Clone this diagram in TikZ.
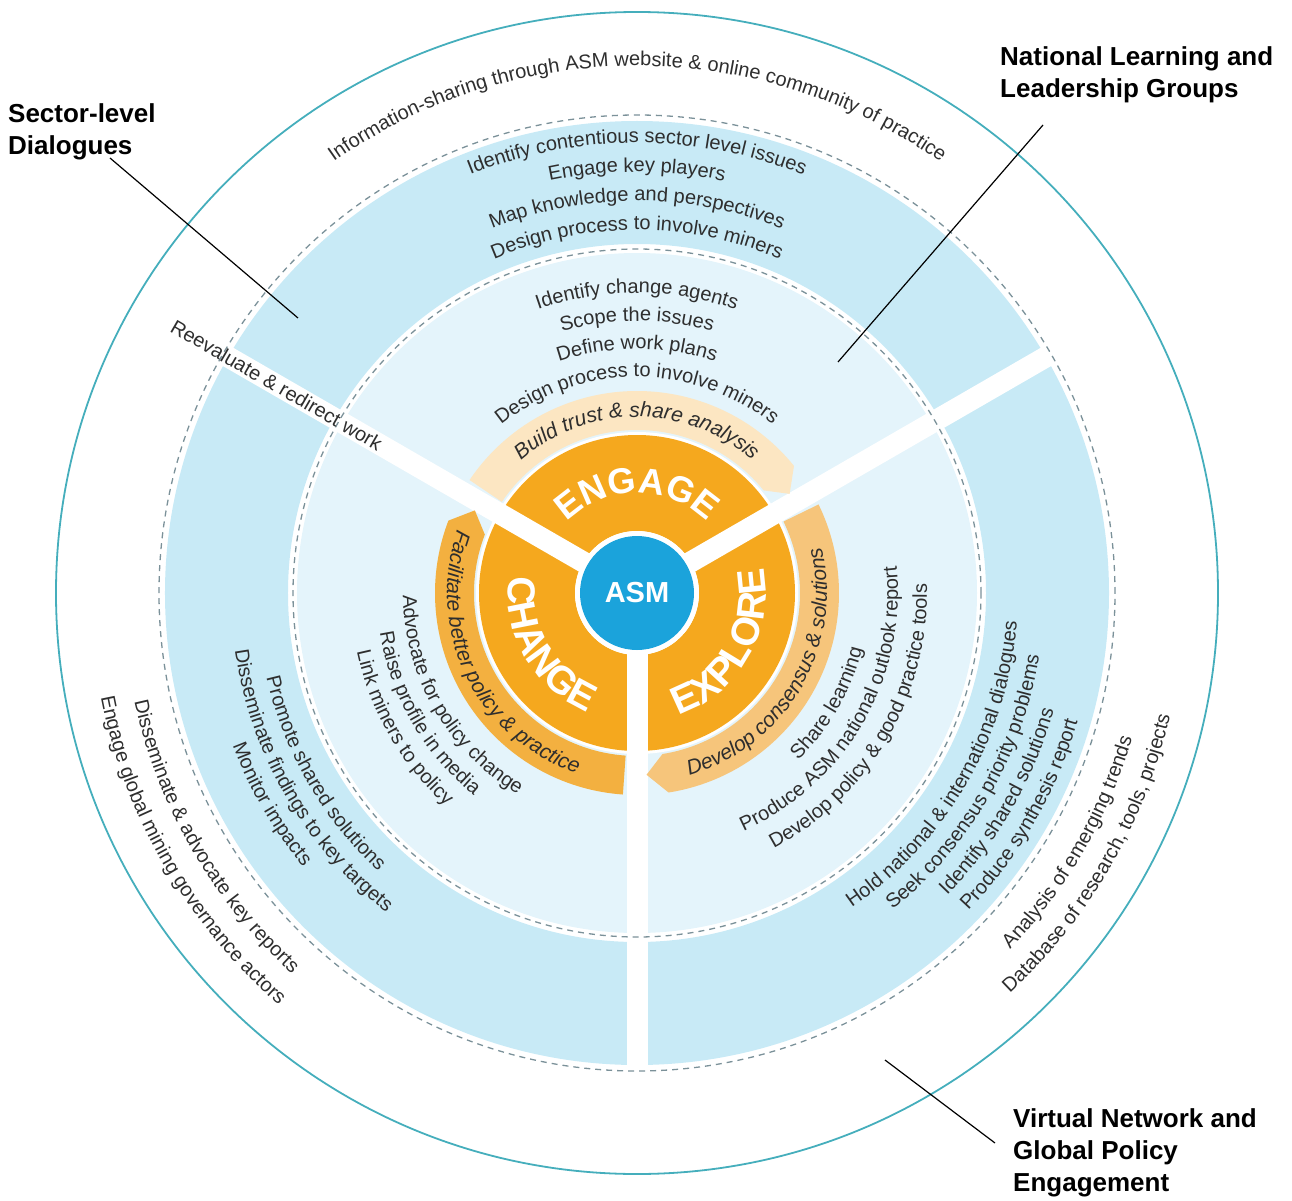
\documentclass[tikz,border=0pt]{standalone}
\usepackage{fontspec}
\setmainfont{Liberation Sans}
\usetikzlibrary{decorations.text}
\definecolor{ringteal}{HTML}{45AEBC}
\definecolor{bandblue}{HTML}{C8EAF6}
\definecolor{innerblue}{HTML}{E4F4FB}
\definecolor{orgdark}{HTML}{F5A81E}
\definecolor{orgchange}{HTML}{F3B040}
\definecolor{orgexplore}{HTML}{F6C57B}
\definecolor{orgengage}{HTML}{FCE6C2}
\definecolor{asmblue}{HTML}{1BA3DB}
\definecolor{dashgray}{HTML}{7B9199}
\definecolor{txtgray}{HTML}{2E2E2E}
\newcommand\listfnt{\fontsize{20}{23}\selectfont}
\newcommand\italfnt{\itshape\fontsize{21}{24}\selectfont}
\newcommand\bigfnt{\bfseries\fontsize{36}{40}\selectfont}
\newcommand\bigsidefnt{\bfseries\fontsize{39}{42}\selectfont}
% text on an arc, tops outward (clockwise path)
\newcommand\arcout[4][txtgray]{\path[decorate,decoration={text along path,text align=center,text color=#1,text={#4}}] ({#3+80}:#2) arc[start angle={#3+80},end angle={#3-80},radius=#2];}
% text on an arc, tops inward (counter-clockwise path)
\newcommand\arcin[4][txtgray]{\path[decorate,decoration={text along path,text align=center,text color=#1,text={#4}}] ({#3-80}:#2) arc[start angle={#3-80},end angle={#3+80},radius=#2];}
% pale arrow segment: colour, start angle, body end angle, tip angle
\newcommand\paleseg[4]{\fill[#1] (#2:163) arc[start angle=#2,end angle=#3,radius=163] -- (#4:182) -- (#3:202) arc[start angle=#3,end angle=#2,radius=202] -- cycle;}
\tikzset{
  lbl/.style={font=\bfseries\fontsize{26}{32}\selectfont, align=left, inner sep=0pt, text=black},
  leader/.style={black, line width=1.2pt},
  dashring/.style={dashgray, line width=1.3pt, dash pattern=on 6pt off 5pt},
  spoke/.style={white, line width=21pt}
}
\begin{document}
\begin{tikzpicture}[x=1pt,y=1pt]
\useasboundingbox (-637,-607) rectangle (655,593);
% coloured fields
\fill[innerblue] (0,0) circle[radius=340];
\fill[bandblue, even odd rule] (0,0) circle[radius=472] (0,0) circle[radius=349];
\fill[white] (0,0) circle[radius=161];
\fill[orgdark, even odd rule] (0,0) circle[radius=158] (0,0) circle[radius=62];
% spokes
\foreach \a in {30,150,270} \draw[spoke] (0,0) -- (\a:478);
% pale arrow segments
\paleseg{orgengage}{146}{39}{33}
\paleseg{orgchange}{266}{159}{153}
\paleseg{orgexplore}{26}{-81}{-87}
% centre
\fill[white] (0,0) circle[radius=62];
\node[circle, fill=asmblue, minimum size=114pt, inner sep=0pt, text=white, font=\bfseries\fontsize{29}{32}\selectfont] (asm) at (0,0) {ASM};
% rings
\draw[dashring] (0,0) circle[radius=344];
\draw[dashring] (0,0) circle[radius=478];
\draw[ringteal, line width=1.8pt] (0,0) circle[radius=581];
% ---- top texts
\arcout{527}{90}{|\listfnt|Information-sharing through ASM website {\&} online community of practice}
\arcout{450}{90}{|\listfnt|Identify contentious sector level issues}
\arcout{421}{90}{|\listfnt|Engage key players}
\arcout{392}{90}{|\listfnt|Map knowledge and perspectives}
\arcout{363}{90}{|\listfnt|Design process to involve miners}
\arcout{300}{90}{|\listfnt|Identify change agents}
\arcout{272}{90}{|\listfnt|Scope the issues}
\arcout{244}{90}{|\listfnt|Define work plans}
\arcout{216}{90}{|\listfnt|Design process to involve miners}
\arcout{176}{90}{|\italfnt|Build trust {\&} share analysis}
\arcout[white]{100}{90}{|\bigfnt|ENGAGE}
% ---- left texts
\arcin{514}{210}{|\listfnt|Disseminate {\&} advocate key reports}
\arcin{546}{210}{|\listfnt|Engage global mining governance actors}
\arcin{380}{210}{|\listfnt|Promote shared solutions}
\arcin{406}{210}{|\listfnt|Disseminate findings to key targets}
\arcin{432}{210}{|\listfnt|Monitor impacts}
\arcin{234}{210}{|\listfnt|Advocate for policy change}
\arcin{260}{210}{|\listfnt|Raise profile in media}
\arcin{286}{210}{|\listfnt|Link miners to policy}
\arcin{190}{206}{|\italfnt|Facilitate better policy {\&} practice}
\arcin[white]{129}{210}{|\bigsidefnt|CHANGE}
% ---- right texts
\arcin{516}{330}{|\listfnt|Analysis of emerging trends}
\arcin{547}{330}{|\listfnt|Database of research, tools, projects}
\arcin{381}{330}{|\listfnt|Hold national {\&} international dialogues}
\arcin{407}{330}{|\listfnt|Seek consensus priority problems}
\arcin{433}{330}{|\listfnt|Identify shared solutions}
\arcin{459}{330}{|\listfnt|Produce synthesis report}
\arcin{232}{330}{|\listfnt|Share learning}
\arcin{261}{330}{|\listfnt|Produce ASM national outlook report}
\arcin{290}{330}{|\listfnt|Develop policy {\&} good practice tools}
\arcin{190}{330}{|\italfnt|Develop consensus {\&} solutions}
\arcin[white]{129}{330}{|\bigsidefnt|EXPLORE}
% spoke text
\node[rotate=-30, text=txtgray, font=\listfnt, inner sep=0pt] (reeval) at (150:416) {Reevaluate \& redirect work};
% labels
\node[lbl, anchor=north west] (sector) at (-629,490) {Sector-level\\Dialogues};
\node[lbl, anchor=north west] (national) at (363,547) {National Learning and\\Leadership Groups};
\node[lbl, anchor=north west] (virtual) at (376,-515) {Virtual Network and\\Global Policy\\Engagement};
% leader lines
\coordinate (secA) at (-527,435);
\coordinate (secB) at (-339,275);
\coordinate (natA) at (406,468);
\coordinate (natB) at (201,231);
\coordinate (virA) at (248,-467);
\coordinate (virB) at (358,-550);
\draw[leader] (secA) -- (secB);
\draw[leader] (natA) -- (natB);
\draw[leader] (virA) -- (virB);
\end{tikzpicture}
\end{document}
